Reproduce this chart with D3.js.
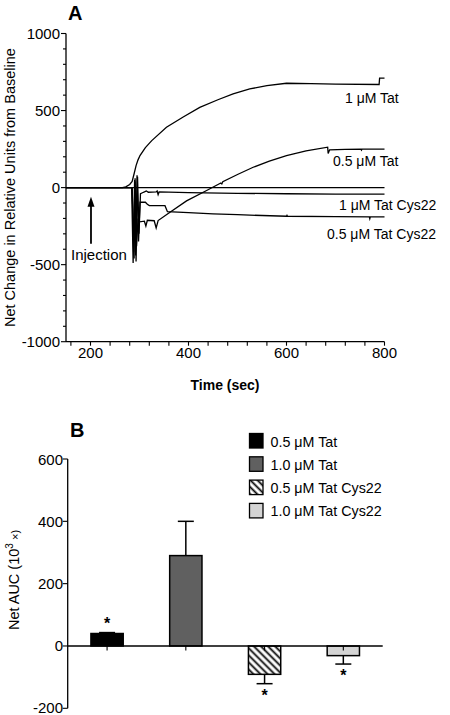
<!DOCTYPE html>
<html><head><meta charset="utf-8">
<script src="https://cdn.jsdelivr.net/npm/d3@7"></script>
<style>body{margin:0;background:#fff}svg{display:block;font-family:Arial,"Liberation Sans",sans-serif}</style>
</head><body><svg id="c" width="450" height="715"></svg>
<script>
// ---- Panel A data: [time (sec), net change]
const baselineTrace = [[150,0],[800,0]];
const tat1 = [[150,0],[265,0],[272,5],[280,20],[285,40],[289,90],[293,143],[297,180],[301,208],[312,260],[325,305],[355,392],[390,460],[423,521],[460,570],[491,608],[525,640],[560,662],[600,677],[650,675],[700,672],[789,669],[790,710],[800,710]];
const tat05 = [[150,0],[285,0],[289,-460],[291,40],[294,-380],[297,-200],[300,-222],[310,-218],[313,-250],[316,-212],[330,-215],[334,-262],[338,-214],[360,-165],[396,-86],[437,-19],[466,30],[468,24],[470,38],[500,85],[532,132],[565,172],[600,208],[640,238],[684,262],[685,222],[688,245],[720,248],[752,250],[753,244],[754,250],[800,250]];
const cys1 = [[150,0],[285,0],[288,-420],[291,60],[293,-480],[296,70],[299,-300],[302,-40],[305,-35],[310,-28],[314,-22],[318,-30],[334,-28],[336,-22],[338,-45],[340,-28],[400,-33],[500,-37],[600,-40],[700,-42],[800,-42]];
const cys05 = [[150,0],[284,0],[287,-490],[290,50],[292,-440],[295,80],[298,-350],[301,-95],[312,-95],[316,-108],[320,-117],[352,-117],[357,-156],[400,-163],[450,-170],[500,-176],[600,-186],[601,-180],[602,-186],[700,-188],[769,-190],[770,-202],[771,-190],[800,-190]];
const traceLabels = ["1 \u03bcM Tat","0.5 \u03bcM Tat","1 \u03bcM Tat Cys22","0.5 \u03bcM Tat Cys22"];
const xTicksA = [200,400,600,800];
const yTicksA = [-1000,-500,0,500,1000];

// ---- Panel B data
const groups = ["0.5 \u03bcM Tat","1.0 \u03bcM Tat","0.5 \u03bcM Tat Cys22","1.0 \u03bcM Tat Cys22"];
const auc = [40, 290, -91, -31];
const aucErr = [3, 110, 30, 27];
const signif = [true, false, true, true];
const yTicksB = [-200,0,200,400,600];

const svg = d3.select("#c");

// ================= Panel A =================
const xA = d3.scaleLinear().domain([150,800]).range([66,384.5]);
const yA = d3.scaleLinear().domain([-1000,1000]).range([341.7,33.5]);
const gA = svg.append("g");

// axes
gA.append("line").attr("x1",xA(150)).attr("x2",xA(150)).attr("y1",yA(1000)).attr("y2",yA(-1000)).attr("stroke","#000").attr("stroke-width",1.3);
gA.append("line").attr("x1",xA(150)).attr("x2",xA(800)).attr("y1",yA(-1000)).attr("y2",yA(-1000)).attr("stroke","#000").attr("stroke-width",1.3);
d3.range(-1000,1001,100).forEach(v=>{
  const major = v%500===0;
  gA.append("line").attr("x1",xA(150)-(major?5:3)).attr("x2",xA(150)).attr("y1",yA(v)).attr("y2",yA(v)).attr("stroke","#000").attr("stroke-width",1.1);
});
yTicksA.forEach(v=>{
  gA.append("text").attr("x",xA(150)-6).attr("y",yA(v)+5.5).attr("text-anchor","end").attr("font-size",15).text(v);
});
d3.range(160,801,40).forEach(t=>{
  gA.append("line").attr("x1",xA(t)).attr("x2",xA(t)).attr("y1",yA(-1000)).attr("y2",yA(-1000)+4).attr("stroke","#000").attr("stroke-width",1.1);
});
xTicksA.forEach(t=>{
  gA.append("text").attr("x",xA(t)).attr("y",358).attr("text-anchor","middle").attr("font-size",15).text(t);
});
gA.append("text").attr("x",225).attr("y",390).attr("text-anchor","middle").attr("font-size",14).attr("font-weight","bold").text("Time (sec)");
gA.append("text").attr("transform","translate(15,"+((33.5+341.7)/2)+") rotate(-90)").attr("text-anchor","middle").attr("font-size",14.5).text("Net Change in Relative Units from Baseline");
gA.append("text").attr("x",68).attr("y",20).attr("font-size",20).attr("font-weight","bold").text("A");

// traces
const line = d3.line().x(d=>xA(d[0])).y(d=>yA(d[1]));
[baselineTrace, cys05, cys1, tat05, tat1].forEach(tr=>{
  gA.append("path").attr("d",line(tr)).attr("fill","none").attr("stroke","#000").attr("stroke-width",1.3).attr("stroke-linejoin","miter");
});
const labPos = [[345,103],[333,166],[339,210],[327,239]];
traceLabels.forEach((t,i)=>{
  gA.append("text").attr("x",labPos[i][0]).attr("y",labPos[i][1]).attr("font-size",14).text(t);
});
// injection arrow
const injT = 201;
gA.append("line").attr("x1",xA(injT)).attr("x2",xA(injT)).attr("y1",yA(-365)).attr("y2",yA(-80)).attr("stroke","#000").attr("stroke-width",1.8);
gA.append("path").attr("d",`M${xA(injT)},${yA(-60)} L${xA(injT)-3.5},${yA(-60)+10} L${xA(injT)+3.5},${yA(-60)+10} Z`).attr("fill","#000");
gA.append("text").attr("x",71).attr("y",260).attr("font-size",15).text("Injection");

// ================= Panel B =================
const xB = d3.scaleBand().domain(groups).range([67.7,382.7]).paddingInner(0.59).paddingOuter(0.295);
const yB = d3.scaleLinear().domain([-200,600]).range([708.3,459]);
const gB = svg.append("g");
const defs = svg.append("defs");
const pat = defs.append("pattern").attr("id","hatch").attr("patternUnits","userSpaceOnUse").attr("width",5).attr("height",5).attr("patternTransform","rotate(-45)");
pat.append("rect").attr("width",5).attr("height",5).attr("fill","#fff");
pat.append("line").attr("x1",2.5).attr("x2",2.5).attr("y1",0).attr("y2",5).attr("stroke","#000").attr("stroke-width",1.8);
const fills = ["#000","#606060","url(#hatch)","#d4d4d4"];

gB.append("line").attr("x1",67.7).attr("x2",67.7).attr("y1",yB(600)).attr("y2",yB(-200)).attr("stroke","#000").attr("stroke-width",1.3);
yTicksB.forEach(v=>{
  gB.append("line").attr("x1",62.7).attr("x2",67.7).attr("y1",yB(v)).attr("y2",yB(v)).attr("stroke","#000").attr("stroke-width",1.1);
  gB.append("text").attr("x",63).attr("y",Math.min(yB(v)+5.5,713)).attr("text-anchor","end").attr("font-size",15).text(v);
});
gB.append("text").attr("transform","translate(19,580) rotate(-90)").attr("text-anchor","middle").attr("font-size",14.5)
  .call(t=>{t.append("tspan").text("Net AUC (10");t.append("tspan").attr("font-size",10).attr("dy",-6).text("3");t.append("tspan").attr("dy",6).attr("font-size",11).text(" \u00d7)");});
gB.append("text").attr("x",70).attr("y",437).attr("font-size",20).attr("font-weight","bold").text("B");

// error bars
groups.forEach((g,i)=>{
  const cx = xB(g)+xB.bandwidth()/2;
  const v = auc[i], e = aucErr[i];
  const tip = v>=0 ? v+e : v-e;
  gB.append("line").attr("x1",cx).attr("x2",cx).attr("y1",yB(v)).attr("y2",yB(tip)).attr("stroke","#000").attr("stroke-width",1.5);
  gB.append("line").attr("x1",cx-8).attr("x2",cx+8).attr("y1",yB(tip)).attr("y2",yB(tip)).attr("stroke","#000").attr("stroke-width",1.5);
});
// bars
groups.forEach((g,i)=>{
  const v = auc[i];
  gB.append("rect").attr("x",xB(g)).attr("width",xB.bandwidth())
    .attr("y",yB(Math.max(0,v))).attr("height",Math.abs(yB(v)-yB(0)))
    .attr("fill",fills[i]).attr("stroke","#000").attr("stroke-width",1.5);
});
// x axis
gB.append("line").attr("x1",67.7).attr("x2",382.7).attr("y1",yB(0)).attr("y2",yB(0)).attr("stroke","#000").attr("stroke-width",1.3);
groups.forEach(g=>{
  const cx = xB(g)+xB.bandwidth()/2;
  gB.append("line").attr("x1",cx).attr("x2",cx).attr("y1",yB(0)).attr("y2",yB(0)+4.5).attr("stroke","#000").attr("stroke-width",1.1);
});
// asterisks
groups.forEach((g,i)=>{
  if(!signif[i]) return;
  const cx = xB(g)+xB.bandwidth()/2;
  const v = auc[i], e = aucErr[i];
  const y = v>=0 ? yB(v+e)-4 : yB(v-e)+17;
  gB.append("text").attr("x",cx).attr("y",y).attr("text-anchor","middle").attr("font-size",16).attr("font-weight","bold").text("*");
});
// legend
groups.forEach((g,i)=>{
  const y0 = 433.5 + i*23.3;
  gB.append("rect").attr("x",249.5).attr("y",y0).attr("width",13.5).attr("height",14.5).attr("fill",fills[i]).attr("stroke","#000").attr("stroke-width",1.3);
  gB.append("text").attr("x",270.5).attr("y",y0+13).attr("font-size",14.3).text(g);
});
</script></body></html>
